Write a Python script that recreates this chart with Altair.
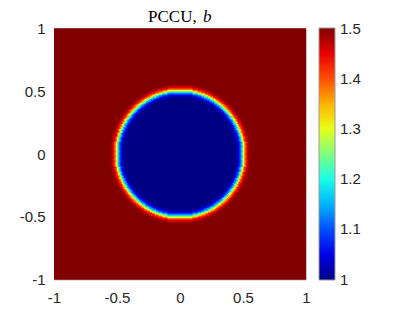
import altair as alt
import numpy as np
import pandas as pd

# ---- values ----
# radial profile of b (distance from the centre -> value)
profile_r = [0.44, 0.45, 0.46, 0.47, 0.48, 0.49, 0.50, 0.51, 0.52, 0.53, 0.54, 0.55, 0.56, 0.57]
profile_b = [1.0, 1.005, 1.02, 1.05, 1.09, 1.14, 1.22, 1.31, 1.38, 1.43, 1.465, 1.485, 1.495, 1.5]
n_cells = 200
axis_ticks = [-1, -0.5, 0, 0.5, 1]
cbar_ticks = [1, 1.1, 1.2, 1.3, 1.4, 1.5]
jet_stops = [1.0, 1.0625, 1.1875, 1.3125, 1.4375, 1.5]
jet_colors = ["#000084", "#0000FF", "#00FFFF", "#FFFF00", "#FF0000", "#800000"]
title_main = "PCCU,"
title_var = "b"

# ---- build the cell table (run-length merged per row) ----
edges = np.linspace(-1, 1, n_cells + 1)
centers = (edges[:-1] + edges[1:]) / 2
overlap = (edges[1] - edges[0])   # overlap one cell to hide anti-aliasing seams
pr = np.array(profile_r)
pb = np.array(profile_b)
mids = (pr[:-1] + pr[1:]) / 2
rows = []
for j in range(n_cells):
    yc = centers[j]
    r = np.hypot(centers, yc)
    vals = pb[np.searchsorted(mids, r)]
    start = 0
    for i in range(1, n_cells + 1):
        if i == n_cells or vals[i] != vals[start]:
            rows.append({"x0": edges[start], "x1": min(edges[i] + overlap, 1.0),
                         "y0": edges[j], "y1": min(edges[j + 1] + overlap, 1.0),
                         "b": float(vals[start])})
            start = i
df = pd.DataFrame(rows)
ticks_df = pd.DataFrame({"v": cbar_ticks, "lab": [str(v) for v in cbar_ticks]})

cscale = alt.Scale(domain=jet_stops, range=jet_colors, interpolate="rgb")
pos = alt.Scale(domain=[-1, 1], nice=False, zero=False)

heat = alt.Chart(df).mark_rect(strokeWidth=0).encode(
    x=alt.X("x0:Q", scale=pos, title=None,
            axis=alt.Axis(values=axis_ticks, labelExpr="datum.value + ''",
                          labelPadding=11, labelFlush=False)),
    x2="x1:Q",
    y=alt.Y("y0:Q", scale=pos, title=None,
            axis=alt.Axis(values=axis_ticks, labelExpr="datum.value + ''",
                          labelPadding=9, labelFlush=False)),
    y2="y1:Q",
    color=alt.Color("b:Q", scale=cscale,
                    legend=alt.Legend(type="gradient", title=None, orient="none",
                                      legendX=265, legendY=-0.5,
                                      direction="vertical", gradientLength=252,
                                      gradientThickness=16, labelExpr="''",
                                      labelOpacity=0,
                                      gradientStrokeColor="#9a9a9a",
                                      gradientStrokeWidth=1)),
)

# colour-bar labels, placed through their own value scale (1 .. 1.5)
cbar_labels = alt.Chart(ticks_df).mark_text(
    font="Liberation Sans", fontSize=15, color="#262626", align="left", baseline="middle"
).encode(
    y=alt.Y("v:Q", scale=alt.Scale(domain=[cbar_ticks[0], cbar_ticks[-1]], nice=False, zero=False),
            axis=None),
    x=alt.value(286),
    text="lab:N",
)

t1 = alt.Chart(pd.DataFrame({"t": [title_main]})).mark_text(
    font="Liberation Serif", fontSize=17, align="left", baseline="alphabetic", color="#000"
).encode(text="t:N", x=alt.value(94), y=alt.value(-6.5))

t2 = alt.Chart(pd.DataFrame({"t": [title_var]})).mark_text(
    font="Liberation Serif", fontSize=17, fontStyle="italic", align="left",
    baseline="alphabetic", color="#000"
).encode(text="t:N", x=alt.value(149), y=alt.value(-6.5))

chart = alt.layer(heat, cbar_labels, t1, t2).resolve_scale(y="independent").properties(
    width=252, height=251,
    autosize=alt.AutoSizeParams(type="none"),
    padding={"left": 46, "top": 20.5, "right": 79, "bottom": 30},
).configure_axis(
    labelFont="Liberation Sans", labelFontSize=15, labelColor="#262626",
    ticks=False, tickSize=0, domain=False, grid=False,
).configure_view(stroke="#c4c4c4", strokeWidth=1, fill="#800000")

chart.save("out.html", embed_options={"renderer": "svg", "actions": False})
